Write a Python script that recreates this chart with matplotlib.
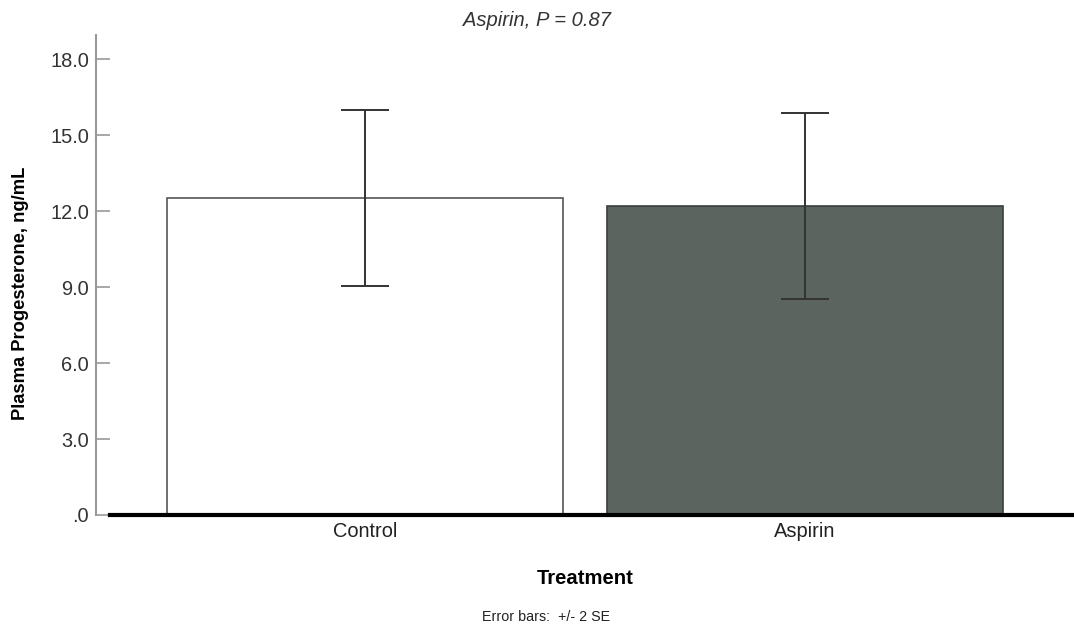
import matplotlib.pyplot as plt
import numpy as np

plt.rcParams['font.family'] = ['Liberation Sans', 'DejaVu Sans']

groups = ['Control', 'Aspirin']
means = [12.53, 12.2]
err_low = [9.04, 8.53]
err_high = [15.97, 15.88]
bar_colors = ['#ffffff', '#5b645e']
y_ticks = [0, 3, 6, 9, 12, 15, 18]
y_tick_labels = ['.0', '3.0', '6.0', '9.0', '12.0', '15.0', '18.0']


def main():
    fig = plt.figure(figsize=(10.74, 6.3), dpi=100)
    ax = fig.add_axes([96 / 1074, 1 - 515 / 630, 978 / 1074, 480 / 630])

    x = np.arange(len(groups))
    means_arr = np.array(means)
    yerr = np.vstack([means_arr - np.array(err_low), np.array(err_high) - means_arr])

    ax.bar(x, means_arr, width=0.9, color=bar_colors, edgecolor=['#555555', '#3a3f3c'],
           linewidth=1.2, zorder=2)
    ax.errorbar(x, means_arr, yerr=yerr, fmt='none', ecolor='#333333', elinewidth=1.4,
                capsize=17.5, capthick=1.4, zorder=3)

    ax.set_xlim(-0.611, 1.611)
    ax.set_ylim(0, 18.95)

    ax.set_yticks(y_ticks)
    ax.set_yticklabels(y_tick_labels)
    ax.set_xticks(x)
    ax.set_xticklabels(groups)

    for side in ['top', 'right', 'bottom']:
        ax.spines[side].set_visible(False)
    ax.spines['left'].set_color('#999999')
    ax.spines['left'].set_linewidth(1.5)

    ax.tick_params(axis='y', direction='in', length=10, width=1.2, color='#999999',
                   labelsize=14.4, labelcolor='#333333', pad=5)
    ax.tick_params(axis='x', length=0, labelsize=14.4, labelcolor='#222222', pad=5)

    # thick baseline
    ax.axhline(0, xmin=14 / 978, xmax=1, color='black', linewidth=3, zorder=4, clip_on=False)

    ax.set_ylabel('Plasma Progesterone, ng/mL', fontsize=13.2, fontweight='bold',
                  labelpad=15, y=0.4625)
    ax.set_xlabel('Treatment', fontsize=14.6, fontweight='bold', labelpad=20)

    fig.text(537 / 1074, 1 - 20 / 630, 'Aspirin, P = 0.87', ha='center', va='center',
             fontsize=14.5, style='italic', color='#333333')
    fig.text(546 / 1074, 1 - 617 / 630, 'Error bars:  +/- 2 SE', ha='center', va='center',
             fontsize=10.3, color='#222222')

    fig.savefig('out.png', dpi=100)


if __name__ == "__main__":
    main()
